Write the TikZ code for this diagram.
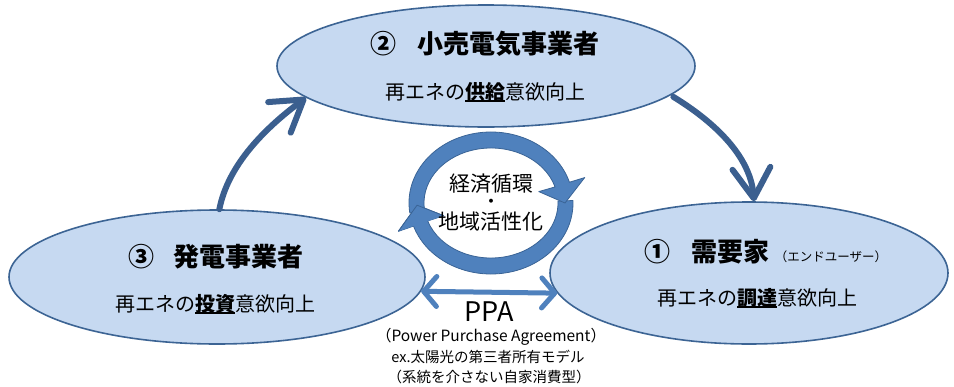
\documentclass[tikz,border=0pt]{standalone}
\usepackage{fontspec}
\setmainfont{Noto Sans CJK JP}
\usetikzlibrary{arrows.meta,shapes.geometric}
\definecolor{ellfill}{HTML}{C6D9F1}
\definecolor{ellline}{HTML}{3C6494}
\definecolor{darkarrow}{HTML}{3B5F8F}
\definecolor{circfill}{HTML}{4F81BD}
\definecolor{circline}{HTML}{3A6496}
\definecolor{ppablue}{HTML}{4F81BD}
\newcommand\myul[1]{\setbox0\hbox{#1}\rlap{\rule[-2.8pt]{\wd0}{2pt}}\box0}
\begin{document}
\begin{tikzpicture}[x=1pt,y=-1pt,
  ell/.style={ellipse, draw=ellline, fill=ellfill, line width=1.6pt, inner sep=0pt},
  title/.style={font=\fontsize{26}{30}\selectfont\bfseries, inner sep=0pt},
  sub/.style={font=\fontsize{20}{24}\selectfont, inner sep=0pt},
  small/.style={font=\fontsize{14.5}{17}\selectfont, inner sep=0pt},
  circtxt/.style={font=\fontsize{21}{24}\selectfont, inner sep=0pt},
  flow/.style={draw=darkarrow, line width=6pt, line cap=round,
    -{Straight Barb[length=30pt,width=38pt,round]}},
  ppa/.style={draw=ppablue, line width=5pt,
    {Straight Barb[length=13pt,width=30pt,round]}-{Straight Barb[length=13pt,width=30pt,round]}},
  circarrow/.style={fill=circfill, draw=circline, line width=0.8pt, line join=round}
]
\fill[white] (0,0) rectangle (954,386);
\useasboundingbox (0,0) rectangle (954,386);

% ellipses
\node[ell, minimum width=418pt, minimum height=122pt] (top) at (486,66) {};
\node[ell, minimum width=416pt, minimum height=134pt] (left) at (217,277) {};
\node[ell, minimum width=398pt, minimum height=142pt] (right) at (749,273) {};

% texts in ellipses
\node[title] (t2) at (485,44) {②\hspace{0.8em}小売電気事業者};
\node[sub] (s2) at (485,92) {再エネの\myul{\textbf{供給}}意欲向上};
\node[title] (t3) at (216,257) {③\hspace{0.75em}発電事業者};
\node[sub] (s3) at (215,304) {再エネの\myul{\textbf{投資}}意欲向上};
\node[title] (t1) at (766,252) {①\hspace{0.8em}需要家\hspace{0.2em}{\fontsize{12.5}{14}\selectfont\mdseries （エンドユーザー）}};
\node[sub] (s1) at (757,298) {再エネの\myul{\textbf{調達}}意欲向上};

% flow arrows
\draw[flow] (left.88) .. controls (228,165) and (265,128) .. (top.190);
\draw[flow, shorten <=3pt] (top.-9) .. controls (703,115) and (750,150) .. (right.86);

% circular arrows
\begin{scope}[shift={(491,203)}]
  \path[circarrow] (-2:82 and 71) arc[start angle=-2, end angle=161, x radius=82, y radius=71]
    -- (161:98 and 87) -- (178:74 and 63) -- (161:50 and 39) -- (161:67 and 55)
    arc[start angle=161, end angle=-2, x radius=67, y radius=55] -- cycle;
  \path[circarrow] (172:82 and 71) arc[start angle=172, end angle=343, x radius=82, y radius=71]
    -- (343:98 and 87) -- (360:74 and 63) -- (343:50 and 39) -- (343:67 and 55)
    arc[start angle=343, end angle=172, x radius=67, y radius=55] -- cycle;
  \fill[circfill] (161:97 and 86) -- (178:74 and 63) -- (161:51 and 40) -- cycle;
  \draw[circline, line width=0.8pt, line join=round] (161:98 and 87) -- (178:74 and 63) -- (161:50 and 39);
\end{scope}
\node[circtxt] (c1) at (491,184) {経済循環};
\node[font=\fontsize{14}{16}\selectfont\bfseries, inner sep=0pt] (c2) at (491,203) {・};
\node[circtxt] (c3) at (491,222) {地域活性化};

% PPA
\draw[ppa] (left.-4) -- (right.186);
\node[font=\fontsize{27}{30}\selectfont, inner sep=0pt] (ppa) at (489,312) {PPA};
\node[font=\fontsize{15.5}{17}\selectfont, inner sep=0pt] (p1) at (491,337) {（Power Purchase Agreement）};
\node[small] (p2) at (488,357) {ex.太陽光の第三者所有モデル};
\node[small] (p3) at (489,377) {（系統を介さない自家消費型）};
\end{tikzpicture}
\end{document}
